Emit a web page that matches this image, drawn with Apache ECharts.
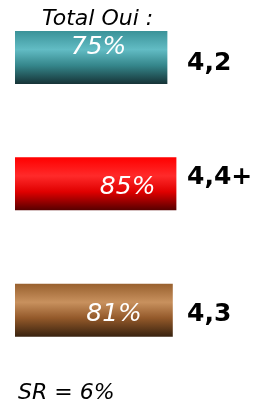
<!DOCTYPE html>
<html><head><meta charset="utf-8">
<script src="https://cdn.jsdelivr.net/npm/echarts@6/dist/echarts.min.js"></script>
<style>html,body{margin:0;padding:0;background:#fff}#c{width:261px;height:403px}</style>
</head><body><div id="c"></div>
<script>
const categories = ['Total Oui', 'B', 'C'];
const percentValues = [75, 85, 81];
const scoreLabels = ['4,2', '4,4+', '4,3'];
const titleText = 'Total Oui :';
const footText = 'SR = 6%';

const AXIS_MIN = -94, AXIS_MAX = 150;
const gradients = [
  [[0,'#3a9298'],[0.35,'#62bcc4'],[0.65,'#35868b'],[1,'#163336']],
  [[0,'#ff0000'],[0.35,'#ff2a2a'],[0.65,'#e00000'],[1,'#560000']],
  [[0,'#98602e'],[0.35,'#c8915e'],[0.65,'#93592a'],[1,'#38220f']]
];
// percent label placement inside each bar (offset from bar end, vertical fraction)
const pctLabelStyle = [
  {dxEnd: -41, fy: 0.31},
  {dxEnd: -21, fy: 0.56},
  {dxEnd: -31, fy: 0.585}
];
const scoreDy = [6, -6, 4];
const FONT = 'DejaVu Sans';

const chart = echarts.init(document.getElementById('c'), null, {renderer:'canvas'});
chart.setOption({
  animation: false,
  grid: {left: 15, right: 26, top: 0, bottom: 17},
  xAxis: {type:'value', min: AXIS_MIN, max: AXIS_MAX, show: false},
  yAxis: {type:'value', min: -0.455, max: 2.6, inverse: true, show: false},
  graphic: [
    {type:'text', left: 42, top: 8, style:{text: titleText, font: 'italic 22px "'+FONT+'"', fill:'#000'}},
    {type:'text', left: 18, top: 382, style:{text: footText, font: 'italic 22px "'+FONT+'"', fill:'#000'}}
  ],
  series: [{
    type: 'custom',
    encode: {x: 0, y: 1},
    data: percentValues.map((v, i) => [v, i, categories[i]]),
    renderItem: function(params, api) {
      const i = params.dataIndex;
      const v = api.value(0);
      const start = api.coord([AXIS_MIN, i]);
      const end = api.coord([v, i]);
      const h = api.size([0, 1])[1] * 0.42;
      const y0 = start[1] - h / 2;
      const grad = new echarts.graphic.LinearGradient(0, 0, 0, 1,
        gradients[i].map(s => ({offset: s[0], color: s[1]})));
      const ls = pctLabelStyle[i];
      return {
        type: 'group',
        children: [
          {type:'rect', shape:{x: start[0], y: y0, width: end[0]-start[0], height: h}, style:{fill: grad}},
          {type:'text', x: end[0] + ls.dxEnd, y: y0 + h*ls.fy,
            style:{text: v + '%', font: 'italic 25px "'+FONT+'"', fill:'#fff', align:'right', verticalAlign:'middle'}},
          {type:'text', x: 187, y: start[1] + scoreDy[i],
            style:{text: scoreLabels[i], font: 'bold 25px "'+FONT+'"', fill:'#000', align:'left', verticalAlign:'middle'}}
        ]
      };
    }
  }]
});
</script></body></html>
